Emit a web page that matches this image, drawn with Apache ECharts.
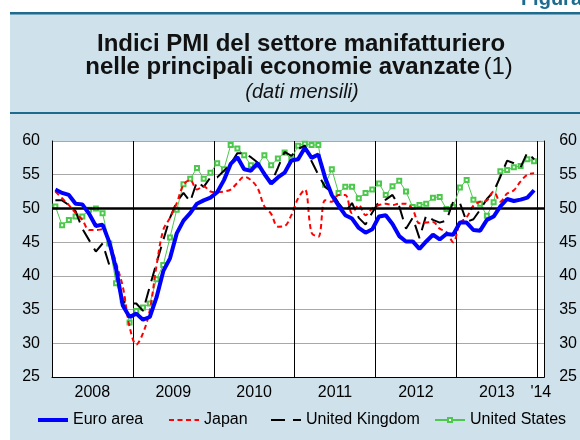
<!DOCTYPE html>
<html>

<head>
    <meta charset="UTF-8" />
    <script src="https://cdn.jsdelivr.net/npm/echarts@6/dist/echarts.min.js"></script>
</head>

<body style="margin: 0; background: #fff;">
    <div id="chart" style="width: 580px; height: 440px;"></div>
    <script type="text/javascript">

        // categories: one slot per month, Jan 2008 .. Jan 2014
        var years = ['2008', '2009', '2010', '2011', '2012', '2013'];
        var months = [];
        years.forEach(function (y) {
            for (var m = 1; m <= 12; m++) months.push(y + '-' + (m < 10 ? '0' : '') + m);
        });
        months.push('2014-01');

        // PMI values (Jan 2008 - Dec 2013)
        var euroArea = [
            52.8, 52.3, 52.0, 50.7, 50.6, 49.2, 47.4, 47.6, 45.0, 41.1, 35.6, 33.9,
            34.4, 33.5, 33.9, 36.8, 40.7, 42.6, 46.3, 48.2, 49.3, 50.7, 51.2, 51.6,
            52.4, 54.2, 56.6, 57.6, 55.8, 55.6, 56.7, 55.1, 53.7, 54.6, 55.3, 57.1,
            57.3, 59.0, 57.5, 58.0, 54.6, 52.0, 50.4, 49.0, 48.5, 47.1, 46.4, 46.9,
            48.8, 49.0, 47.7, 45.9, 45.1, 45.1, 44.0, 45.1, 46.1, 45.4, 46.2, 46.1,
            47.9, 47.9, 46.8, 46.7, 48.3, 48.8, 50.3, 51.4, 51.1, 51.3, 51.6, 52.7
        ];
        var japan = [
            52.5, 51.5, 50.5, 49.3, 48.3, 46.8, 46.8, 46.9, 45.1, 41.9, 38.4, 32.5,
            29.8, 31.5, 34.9, 41.5, 46.8, 48.6, 50.8, 53.5, 54.2, 52.8, 53.3, 52.5,
            52.4, 52.5, 52.8, 53.8, 54.7, 54.2, 53.0, 50.3, 49.2, 47.3, 47.4, 49.0,
            51.5, 52.8, 46.4, 45.8, 51.2, 51.0, 52.0, 52.0, 49.3, 50.5, 49.0, 50.0,
            50.5, 50.7, 50.5, 50.7, 50.7, 49.8, 47.8, 47.9, 48.0, 47.0, 46.5, 45.0,
            47.8, 48.7, 50.4, 51.0, 51.2, 52.5, 51.0, 52.2, 52.7, 54.0, 55.0, 55.2
        ];
        var unitedKingdom = [
            51.2, 51.2, 50.5, 49.6, 47.0, 45.3, 43.6, 44.8, 41.6, 41.0, 36.2, 35.9,
            35.9, 34.8, 38.4, 41.9, 45.3, 48.6, 51.0, 52.3, 51.0, 54.0, 53.2, 54.6,
            54.6, 55.6, 56.6, 58.2, 58.2, 57.6, 56.8, 55.3, 53.8, 56.0, 58.4, 57.8,
            58.8, 59.3, 57.0, 55.0, 53.2, 52.4, 50.8, 49.5, 50.8, 48.6, 47.6, 49.4,
            51.0, 51.3, 52.0, 50.3, 47.0, 48.6, 45.6, 49.0, 48.3, 47.9, 48.2, 51.0,
            50.8, 48.0, 48.4, 49.8, 51.4, 52.5, 54.7, 57.1, 56.7, 56.1, 58.3, 57.3
        ];
        var unitedStates = [
            50.3, 47.5, 48.3, 48.8, 48.8, 49.8, 50.0, 49.3, 44.8, 38.9, 36.4, 33.1,
            34.8, 35.3, 35.9, 39.5, 41.6, 45.7, 49.8, 53.6, 54.4, 56.0, 54.4, 55.3,
            56.7, 55.8, 59.4, 58.9, 57.9, 56.4, 56.4, 57.9, 56.4, 57.4, 58.3, 57.3,
            59.3, 59.6, 59.4, 59.4, 53.5, 55.8, 52.3, 53.2, 53.2, 51.5, 52.3, 52.8,
            53.7, 52.0, 53.3, 54.1, 52.5, 50.2, 50.5, 50.7, 51.6, 51.7, 49.9, 50.2,
            53.1, 54.2, 51.3, 50.7, 48.9, 50.9, 55.5, 55.7, 56.1, 56.3, 57.3, 57.0
        ];

        var font = '"Liberation Sans", Arial, Helvetica, sans-serif';
        var bgBlue = '#cfe1eb';
        var teal = '#1f6b8e';
        var green = '#4cc94c';

        var chart = echarts.init(document.getElementById('chart'));

        var legendBase = {
            orient: 'horizontal',
            padding: 0,
            itemGap: 0,
            itemWidth: 30,
            itemHeight: 14,
            top: 412,
            itemStyle: { opacity: 0 },
            textStyle: { fontFamily: font, fontSize: 16, color: '#000' }
        };

        var option = {
            animation: false,
            textStyle: { fontFamily: font },
            graphic: [
                { type: 'rect', z: -10, shape: { x: 10, y: 12, width: 570, height: 428 }, style: { fill: bgBlue } },
                { type: 'rect', z: -9, shape: { x: 10, y: 12, width: 570, height: 2.5 }, style: { fill: teal } },
                { type: 'rect', z: -9, shape: { x: 10, y: 112, width: 570, height: 2 }, style: { fill: teal } },
                {
                    type: 'text', x: 582, y: -1,
                    style: { text: 'Figura', font: 'bold 20px ' + font, fill: teal, textAlign: 'right', textVerticalAlign: 'middle' }
                },
                {
                    type: 'text', x: 301, y: 44,
                    style: { text: 'Indici PMI del settore manifatturiero', font: 'bold 24px ' + font, fill: '#111', textAlign: 'center', textVerticalAlign: 'middle' }
                },
                {
                    type: 'text', x: 299, y: 67,
                    style: {
                        text: '{b|nelle principali economie avanzate} {r|(1)}',
                        textAlign: 'center', textVerticalAlign: 'middle',
                        rich: {
                            b: { font: 'bold 24px ' + font, fill: '#111' },
                            r: { font: '24px ' + font, fill: '#111' }
                        }
                    }
                },
                {
                    type: 'text', x: 302, y: 92,
                    style: { text: '(dati mensili)', font: 'italic 20px ' + font, fill: '#111', textAlign: 'center', textVerticalAlign: 'middle' }
                }
            ],
            grid: { left: 52, right: 35, top: 141, bottom: 63, show: true, backgroundColor: '#fff', borderWidth: 0 },
            legend: [
                Object.assign({}, legendBase, { data: ['Euro area'], left: 36, lineStyle: { width: 4 } }),
                Object.assign({}, legendBase, { data: ['Japan'], left: 168 }),
                Object.assign({}, legendBase, { data: ['United Kingdom'], left: 270 }),
                Object.assign({}, legendBase, { data: ['United States'], left: 434, itemHeight: 5, itemStyle: {} })
            ],
            xAxis: [{
                type: 'category',
                data: months,
                boundaryGap: true,
                axisLine: { lineStyle: { color: '#000', width: 1 } },
                axisTick: { interval: 0, inside: true, length: 3, lineStyle: { color: '#000' } },
                axisLabel: {
                    interval: function (i) { return i % 12 === 6 || i === 72; },
                    formatter: function (v) {
                        if (v === '2014-01') return "'14";
                        return '{y|' + v.slice(0, 4) + '}';
                    },
                    margin: 8,
                    fontSize: 16,
                    color: '#000',
                    rich: { y: { fontSize: 16, color: '#000', padding: [0, 7, 0, 0] } }
                },
                splitLine: {
                    show: true,
                    interval: function (i) { return i % 12 === 0; },
                    lineStyle: { color: '#000', width: 1 }
                }
            }, {
                type: 'category',
                data: months,
                position: 'bottom',
                boundaryGap: true,
                axisLine: { show: false },
                axisTick: { interval: function (i) { return i % 12 === 6; }, inside: true, length: 6, lineStyle: { color: '#000' } },
                axisLabel: { show: false },
                splitLine: { show: false }
            }],
            yAxis: [{
                type: 'value', min: 25, max: 60, interval: 5, position: 'left',
                axisLine: { show: true, lineStyle: { color: '#000' } },
                axisTick: { show: false },
                axisLabel: { margin: 12, fontSize: 16, color: '#000' },
                splitLine: { lineStyle: { color: '#a8a8a8', width: 1 } }
            }, {
                type: 'value', min: 25, max: 60, interval: 5, position: 'right',
                axisLine: { show: true, lineStyle: { color: '#000' } },
                axisTick: { show: false },
                axisLabel: { margin: 15, fontSize: 16, color: '#000' },
                splitLine: { show: false }
            }],
            series: [{
                name: 'United States', type: 'line', data: unitedStates, z: 2,
                symbol: 'emptyRect', symbolSize: 4, showAllSymbol: true,
                itemStyle: { color: green, borderWidth: 1 },
                lineStyle: { color: green, width: 1 }
            }, {
                name: 'United Kingdom', type: 'line', data: unitedKingdom, z: 3,
                symbol: 'none',
                itemStyle: { color: '#000' },
                lineStyle: { color: '#000', width: 2, type: [14, 8] }
            }, {
                name: 'Japan', type: 'line', data: japan, z: 4,
                symbol: 'none', smooth: 0.35,
                itemStyle: { color: '#ff0000' },
                lineStyle: { color: '#ff0000', width: 2, type: [5, 3.5] }
            }, {
                name: 'Euro area', type: 'line', data: euroArea, z: 5,
                symbol: 'none',
                itemStyle: { color: '#0000ff' },
                lineStyle: { color: '#0000ff', width: 4 },
                markLine: {
                    silent: true, symbol: 'none', label: { show: false },
                    lineStyle: { color: '#000', width: 2.5, type: 'solid' },
                    data: [{ yAxis: 50 }]
                }
            }]
        };

        chart.setOption(option);
    </script>
</body>

</html>
